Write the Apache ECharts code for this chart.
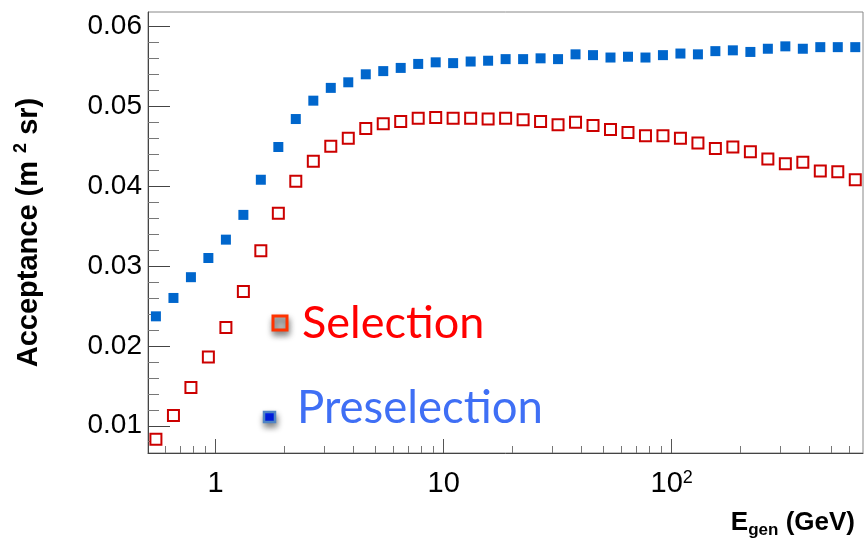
<!DOCTYPE html>
<html>
<head>
<meta charset="utf-8">
<script src="https://cdn.jsdelivr.net/npm/echarts@6/dist/echarts.min.js"></script>
<style>
html,body{margin:0;padding:0;background:#fff;}
#c{width:866px;height:542px;}
</style>
</head>
<body>
<div id="c"></div>
<script>
// Generated energy bin centres (GeV)
const energies = [0.547, 0.653, 0.779, 0.929, 1.109, 1.323, 1.578, 1.883, 2.246, 2.681,
  3.198, 3.816, 4.553, 5.432, 6.479, 7.731, 9.224, 11.00, 13.13, 15.66,
  18.69, 22.30, 26.60, 31.73, 37.86, 45.17, 53.89, 64.30, 76.72, 91.52,
  109.2, 130.3, 155.4, 185.4, 221.3, 264.0, 315.0, 375.8, 448.3, 534.9, 638.2];
// Acceptance (m^2 sr), Preselection (filled blue squares)
const preselection = [0.0237, 0.0260, 0.0286, 0.0310, 0.0333, 0.0364, 0.0408, 0.0449, 0.0484, 0.0507,
  0.0523, 0.0530, 0.0540, 0.0544, 0.0548, 0.0553, 0.0555, 0.0554, 0.0556, 0.0557,
  0.0559, 0.0559, 0.0560, 0.0559, 0.0565, 0.0564, 0.0561, 0.0562, 0.0561, 0.0564,
  0.0566, 0.0565, 0.0569, 0.0570, 0.0568, 0.0572, 0.0575, 0.0572, 0.0574, 0.0574, 0.0574];
// Acceptance (m^2 sr), Selection (open red squares)
const selection = [0.0083, 0.0113, 0.0148, 0.0186, 0.0223, 0.0268, 0.0319, 0.0366, 0.0406, 0.0431,
  0.0450, 0.0460, 0.0472, 0.0478, 0.0481, 0.0485, 0.0486, 0.0485, 0.0485, 0.0484,
  0.0485, 0.0483, 0.0481, 0.0477, 0.0480, 0.0476, 0.0471, 0.0467, 0.0463, 0.0463,
  0.0460, 0.0454, 0.0447, 0.0449, 0.0443, 0.0434, 0.0428, 0.0430, 0.0419, 0.0418, 0.0408];

const xMajorTicks = [1, 10, 100];
const xMinorTicks = [0.6, 0.7, 0.8, 0.9, 2, 3, 4, 5, 6, 7, 8, 9, 20, 30, 40, 50, 60, 70, 80, 90, 200, 300, 400, 500, 600];
const yMajorTicks = [0.01, 0.02, 0.03, 0.04, 0.05, 0.06];
const yMinorTicks = [0.008, 0.012, 0.014, 0.016, 0.018, 0.022, 0.024, 0.026, 0.028, 0.032, 0.034, 0.036, 0.038,
  0.042, 0.044, 0.046, 0.048, 0.052, 0.054, 0.056, 0.058];
const legendNames = ['Selection', 'Preselection'];

const X_MIN = 0.505, X_MAX = 690, Y_MIN = 0.00659, Y_MAX = 0.0618;
const FONT = '"Liberation Sans", Arial, Helvetica, sans-serif';

const chart = echarts.init(document.getElementById('c'), null, {renderer: 'canvas'});

const selData = energies.map((e, i) => [e, selection[i]]);
const preData = energies.map((e, i) => [e, preselection[i]]);

const option = {
  animation: false,
  backgroundColor: '#fff',
  grid: {left: 148, top: 12, right: 3, bottom: 89, show: true, borderColor: '#888', borderWidth: 1, backgroundColor: 'transparent'},
  xAxis: [{
    type: 'log', logBase: 10, min: X_MIN, max: X_MAX, position: 'bottom',
    name: 'E{sub|gen} (GeV)', nameLocation: 'end', nameGap: -8,
    nameTextStyle: {
      align: 'right', verticalAlign: 'top', padding: [55, 0, 0, 0],
      fontFamily: FONT, fontWeight: 'bold', fontSize: 26, color: '#000', lineHeight: 30,
      rich: {sub: {fontFamily: FONT, fontWeight: 'bold', fontSize: 17, lineHeight: 17, padding: [14, 0, 0, 0], verticalAlign: 'top', color: '#000'}}
    },
    axisLine: {show: true, lineStyle: {color: '#444', width: 1}},
    axisTick: {show: true, inside: true, length: 14, customValues: xMajorTicks, lineStyle: {color: '#555', width: 1}},
    axisLabel: {
      show: true, customValues: xMajorTicks, margin: 16, fontFamily: FONT, fontSize: 29, color: '#000',
      formatter: v => (Math.abs(v - 100) < 1e-6 ? '10{sup|2}' : String(Math.round(v))),
      rich: {sup: {fontFamily: FONT, fontSize: 18, lineHeight: 18, padding: [0, 0, 12, 0], verticalAlign: 'top', color: '#000'}}
    },
    splitLine: {show: false}, minorTick: {show: false}
  }, {
    type: 'log', logBase: 10, min: X_MIN, max: X_MAX, position: 'bottom', offset: 0,
    axisLine: {show: false},
    axisTick: {show: true, inside: true, length: 7, customValues: xMinorTicks, lineStyle: {color: '#777', width: 1}},
    axisLabel: {show: false}, splitLine: {show: false}
  }],
  yAxis: [{
    type: 'value', min: Y_MIN, max: Y_MAX, position: 'left',
    name: 'Acceptance (m {sup|2} sr)', nameLocation: 'middle', nameRotate: 90, nameGap: 102,
    nameTextStyle: {
      fontFamily: FONT, fontWeight: 'bold', fontSize: 29, color: '#000', lineHeight: 34,
      rich: {sup: {fontFamily: FONT, fontWeight: 'bold', fontSize: 18, lineHeight: 18, padding: [0, 0, 14, 0], verticalAlign: 'top', color: '#000'}}
    },
    axisLine: {show: true, lineStyle: {color: '#444', width: 1}},
    axisTick: {show: true, inside: true, length: 22, customValues: yMajorTicks, lineStyle: {color: '#444', width: 1}},
    axisLabel: {show: true, customValues: yMajorTicks, margin: 6, fontFamily: FONT, fontSize: 28, color: '#000',
      formatter: v => v.toFixed(2)},
    splitLine: {show: false}
  }, {
    type: 'value', min: Y_MIN, max: Y_MAX, position: 'left', offset: 0,
    axisLine: {show: false},
    axisTick: {show: true, inside: true, length: 11, customValues: yMinorTicks, lineStyle: {color: '#777', width: 1}},
    axisLabel: {show: false}, splitLine: {show: false}
  }],
  series: [{
    name: legendNames[1], type: 'scatter', xAxisIndex: 0, yAxisIndex: 0,
    symbol: 'rect', symbolSize: 10,
    itemStyle: {color: '#0066cc', opacity: 1},
    data: preData, z: 3
  }, {
    name: legendNames[0], type: 'scatter', xAxisIndex: 0, yAxisIndex: 0,
    symbol: 'rect', symbolSize: 11,
    itemStyle: {color: '#ffffff', borderColor: '#cc0000', borderWidth: 2, opacity: 1},
    data: selData, z: 4
  }],
  graphic: [
    {type: 'rect', shape: {x: 273, y: 316, width: 14, height: 14},
      style: {fill: '#bdbdbd', stroke: '#ff3300', lineWidth: 3, shadowBlur: 6, shadowColor: 'rgba(0,0,0,0.45)', shadowOffsetX: 1, shadowOffsetY: 4}},
    {type: 'text', left: 302, top: 301,
      style: {text: legendNames[0], fill: '#ff0000', font: '45px Lato, "Open Sans", sans-serif'}},
    {type: 'rect', shape: {x: 264, y: 412, width: 11, height: 10},
      style: {fill: '#0022ff', stroke: '#4f84c4', lineWidth: 2.5, shadowBlur: 6, shadowColor: 'rgba(0,0,0,0.45)', shadowOffsetX: 1, shadowOffsetY: 4}},
    {type: 'text', left: 297, top: 385,
      style: {text: legendNames[1], fill: '#3f6ff5', font: '45.5px Lato, "Open Sans", sans-serif'}}
  ]
};
chart.setOption(option);
</script>
</body>
</html>
